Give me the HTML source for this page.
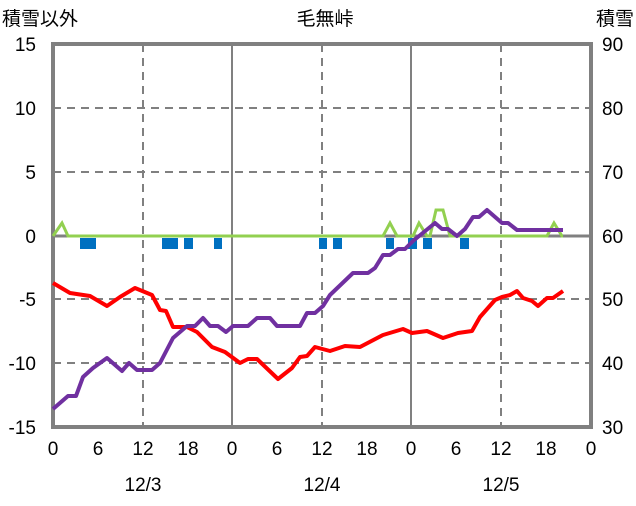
<!DOCTYPE html>
<html><head><meta charset="utf-8"><style>
body{margin:0;background:#fff;}
svg text{font-family:"Liberation Sans","Noto Sans CJK JP",sans-serif;font-size:19px;fill:#000;}
</style></head><body>
<svg width="636" height="501" xmlns="http://www.w3.org/2000/svg">
<g stroke="#808080" stroke-width="2" stroke-dasharray="8,6" fill="none">
<line x1="53" y1="108" x2="591" y2="108"/><line x1="53" y1="172" x2="591" y2="172"/>
<line x1="53" y1="299" x2="591" y2="299"/><line x1="53" y1="363" x2="591" y2="363"/>
<line x1="143" y1="44" x2="143" y2="427"/><line x1="322" y1="44" x2="322" y2="427"/><line x1="501" y1="44" x2="501" y2="427"/>
</g>
<g stroke="#808080" stroke-width="2" fill="none">
<line x1="232" y1="44" x2="232" y2="427"/><line x1="411" y1="44" x2="411" y2="427"/>
<line x1="53" y1="236" x2="591" y2="236" stroke-width="3"/>
</g>
<path d="M53,44 H591 V427 H53 Z" fill="none" stroke="#808080" stroke-width="4"/>
<g fill="#0070c0">
<rect x="80" y="238" width="16" height="11"/><rect x="162" y="238" width="16" height="11"/>
<rect x="184" y="238" width="9" height="11"/><rect x="214" y="238" width="8" height="11"/>
<rect x="319" y="238" width="8" height="11"/><rect x="333" y="238" width="9" height="11"/>
<rect x="386" y="238" width="8" height="11"/><rect x="408" y="238" width="9" height="11"/>
<rect x="423" y="238" width="9" height="11"/><rect x="460" y="238" width="9" height="11"/>
</g>
<polyline fill="none" stroke="#92d050" stroke-width="3" points="53,236 62,223 68,236 383,236 390,223 397,236 413,236 419,223 427,236 430,236 436,210 443,210 450,236 547,236 554,223 562,236 563,236"/>
<polyline fill="none" stroke="#ff0000" stroke-width="4" stroke-linejoin="round" points="53,283 70,293 90,296 107,306 120,297 135,288 152,295 160,310 166,311 173,327 187,327 197,332 212,347 225,352 240,363 248,359 257,359 278,379 292,368 300,357 307,356 315,347 330,351 345,346 360,347 383,335 403,329 412,333 427,331 443,338 458,333 472,331 480,317 495,300 502,297 510,295 517,291 523,298 532,301 538,306 547,298 553,298 563,291"/>
<polyline fill="none" stroke="#7030a0" stroke-width="4" stroke-linejoin="round" points="53,409 68,396 76,396 83,377 93,368 107,358 122,371 129,363 137,370 152,370 160,363 173,338 187,326 195,326 203,318 210,326 218,326 226,332 233,326 248,326 257,318 270,318 277,326 300,326 307,313 315,313 323,306 330,295 353,273 368,273 375,268 383,255 390,255 398,249 405,249 413,241 435,223 442,229 448,229 457,236 465,229 473,217 479,217 487,210 502,223 508,223 517,230 563,230"/>
<g text-anchor="end">
<text x="36" y="51">15</text><text x="36" y="115">10</text><text x="36" y="179">5</text><text x="36" y="243">0</text>
<text x="36" y="306">-5</text><text x="36" y="370">-10</text><text x="36" y="434">-15</text>
</g>
<g text-anchor="start">
<text x="602" y="51">90</text><text x="602" y="115">80</text><text x="602" y="179">70</text><text x="602" y="243">60</text>
<text x="602" y="306">50</text><text x="602" y="370">40</text><text x="602" y="434">30</text>
</g>
<g text-anchor="middle">
<text x="53" y="455">0</text><text x="98" y="455">6</text><text x="143" y="455">12</text><text x="188" y="455">18</text>
<text x="232" y="455">0</text><text x="277" y="455">6</text><text x="322" y="455">12</text><text x="367" y="455">18</text>
<text x="411" y="455">0</text><text x="456" y="455">6</text><text x="501" y="455">12</text><text x="546" y="455">18</text><text x="591" y="455">0</text>
<text x="143" y="491">12/3</text><text x="322" y="491">12/4</text><text x="501" y="491">12/5</text>
<text x="325" y="25">毛無峠</text>
</g>
<text x="2" y="25">積雪以外</text>
<text x="634" y="25" text-anchor="end">積雪</text>
</svg>
</body></html>
